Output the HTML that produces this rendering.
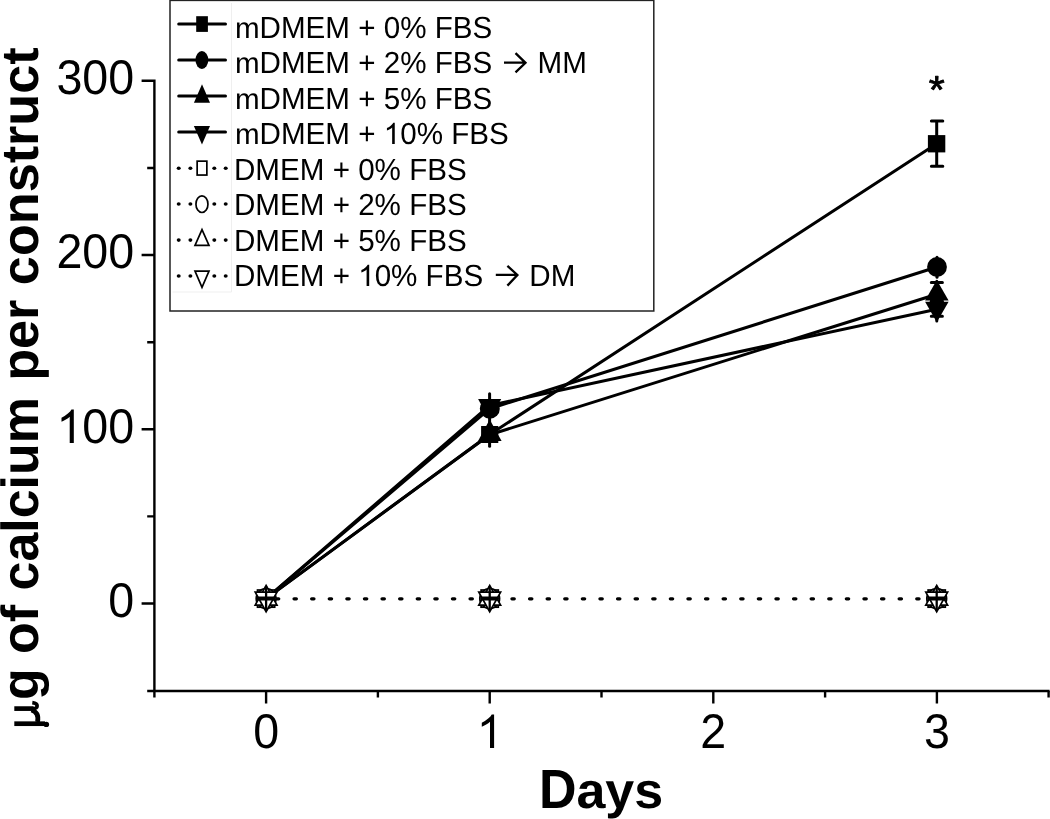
<!DOCTYPE html>
<html><head><meta charset="utf-8"><style>
html,body{margin:0;padding:0;background:#fff;width:1050px;height:819px;overflow:hidden}
svg{display:block;will-change:transform}
text{font-family:"Liberation Sans",sans-serif;fill:#000;text-rendering:geometricPrecision}
</style></head><body>
<svg width="1050" height="819" viewBox="0 0 1050 819">
<rect x="0" y="0" width="1050" height="819" fill="#fff"/>
<defs><path id="one" d="M763,0 L583,0 L583,1147 Q518,1085 415,1024.5 Q312,964 222,930 L222,1104 Q384,1180 502.5,1286 Q621,1392 659,1466 L763,1466 Z"/></defs>

<!-- axes -->
<g stroke="#000" fill="none" stroke-linecap="butt">
  <path d="M141.6,80.8 H154.4 V697.6" stroke-width="2.4" stroke-linejoin="miter"/>
  <path d="M147.2,690.95 H1049.6" stroke-width="2.5"/>
  <path d="M141.6,255.07 H154.4 M141.6,429.3 H154.4 M141.6,603.5 H154.4" stroke-width="2.4"/>
  <path d="M147.2,168 H154.4 M147.2,342.2 H154.4 M147.2,516.4 H154.4" stroke-width="2.4"/>
  <path d="M266.1,690.9 V703.6 M489.7,690.9 V703.6 M713.3,690.9 V703.6 M936.9,690.9 V703.6" stroke-width="2.4"/>
  <path d="M377.9,690.9 V697.6 M601.5,690.9 V697.6 M825.1,690.9 V697.6 M1048.6,690.9 V697.6" stroke-width="2.4"/>
</g>

<!-- tick labels -->
<g font-size="46.6" text-anchor="end">
  <text transform="translate(134.2,94.4) scale(1,1.045)">300</text>
  <text transform="translate(134.2,268.1) scale(1,1.045)">200</text>
  <use href="#one" transform="translate(56.45,443) scale(0.022754,-0.0229)"/>
  <text text-anchor="start" transform="translate(82.37,442.8) scale(1,1.045)">00</text>
  <text transform="translate(134.2,617.1) scale(1,1.045)">0</text>
</g>
<g font-size="46.6" text-anchor="middle">
  <text transform="translate(266.1,748.2) scale(1,1.045)">0</text>
  <use href="#one" transform="translate(476.74,748) scale(0.022754,-0.0229)"/>
  <text transform="translate(713.3,748.2) scale(1,1.045)">2</text>
  <text transform="translate(936.9,748.2) scale(1,1.045)">3</text>
</g>

<!-- axis titles -->
<text font-weight="bold" font-size="52" transform="translate(538.9,807.8) scale(1,1.06)">D</text>
<text font-weight="bold" font-size="52" transform="translate(576.45,807.8) scale(1,0.975)">ays</text>
<text font-weight="bold" font-size="52.2" transform="translate(38.3,700.04) rotate(-90) scale(0.995,1)">g of calcium</text>
<text font-weight="bold" font-size="52.2" transform="translate(38.3,380.84) rotate(-90)">per construct</text>
<!-- mu -->
<g stroke="#000" fill="none" stroke-width="4.7" stroke-linecap="butt">
  <path d="M14.3,708.6 H33.5"/>
  <path d="M32.5,708.6 C38.5,708.6 39,703.5 32.3,702.6" stroke-width="3.6"/>
  <path d="M31.5,710 C37.5,712 38.8,716 37.5,722"/>
  <path d="M14.3,723.7 H45"/>
</g>
<ellipse cx="46.3" cy="724.4" rx="2.8" ry="2.6" fill="#000"/>

<!-- asterisk -->
<text font-size="41" text-anchor="middle" stroke="#000" stroke-width="0.9" stroke-linejoin="round" transform="translate(936.75,103) scale(1,0.95)">*</text>

<!-- dotted series lines -->
<g stroke="#000" fill="none" stroke-width="3.3" stroke-linecap="round" stroke-dasharray="2.3 15.3">
  <path d="M276.45,598.8 H489.7" />
  <path d="M511.95,598.8 H936.6" />
</g>

<!-- solid series lines -->
<g stroke="#000" fill="none" stroke-width="3" stroke-linejoin="round">
  <path d="M266.1,598.6 L489.7,434.5 L936.6,143.7"/>
  <path d="M266.1,598.6 L489.7,408.7 L937,267"/>
  <path d="M266.1,598.6 L489.7,434.7 L936.8,294.2"/>
  <path d="M266.1,598.6 L489.7,405.4 L936.8,309.2"/>
</g>

<!-- error bars solid -->
<g stroke="#000" fill="none" stroke-width="3" stroke-linecap="round">
  <path d="M936.7,121 V166.3 M931.4,121 H942.8 M931.4,166.3 H942.8"/>
  <path d="M936.8,281.2 V321 M931.3,282.5 H942.4 M931.3,316.3 H942.4"/>
  <path d="M489.6,393.8 V446.3"/>
  <path d="M937,257.2 V277.3"/>
</g>

<!-- filled markers -->
<g fill="#000">
  <!-- day 3 -->
  <rect x="927.9" y="135.1" width="17.4" height="17.3"/>
  <circle cx="937" cy="267" r="9.9"/>
  <path d="M936.8,280 L948.6,300.6 L925.1,300.6 Z"/>
  <path d="M925.1,301.8 L948.6,301.8 L936.8,322.2 Z"/>
  <!-- day 1 -->
  <path d="M478.1,399.1 L501.2,399.1 L489.7,420.6 Z"/>
  <circle cx="489.8" cy="408.8" r="10"/>
  <rect x="481.1" y="426" width="17.2" height="17"/>
  <path d="M489.7,419.5 L501.6,441 L478.1,441 Z"/>
</g>
<path d="M931.2,301.2 H942.5" stroke="#000" stroke-width="2.8" stroke-linecap="round"/>

<!-- open markers -->
<defs><g id="omk" stroke="#000" stroke-width="1.7" fill="#fff" stroke-linejoin="miter">
  <rect x="-8.6" y="-8.6" width="17.2" height="17.2"/>
  <circle cx="0" cy="0" r="9.9"/>
  <path d="M0,-13.1 L10.9,6.5 L-10.9,6.5 Z"/>
  <path d="M-10.9,-6.5 L10.9,-6.5 L0,13.1 Z"/>
  <path d="M0,-12.5 V12.5" stroke-width="2.3" fill="none"/>
  <path d="M-7.4,-0.2 H7.4" stroke-width="4" stroke-linecap="round" fill="none"/>
</g></defs>
<use href="#omk" transform="translate(266.1,598.6)"/>
<use href="#omk" transform="translate(489.7,598.6)"/>
<use href="#omk" transform="translate(936.7,598.6)"/>
<!-- legend -->
<rect x="170" y="0.4" width="483.8" height="310.6" fill="#fff" stroke="#222" stroke-width="1.5"/>
<path d="M231.5,3 V292 H172.5" fill="none" stroke="#efefef" stroke-width="1"/>
<g stroke="#000" stroke-width="3" stroke-linecap="round" fill="none">
  <path d="M178.7,24 H225.5 M178.7,60 H225.5 M178.7,96 H225.5 M178.7,132 H225.5"/>
</g>
<g fill="#000">
  <rect x="196.2" y="16.2" width="11.7" height="15.7"/>
  <ellipse cx="201.9" cy="60" rx="6.4" ry="8.9"/>
  <path d="M202,84.3 L210,102.7 L193.9,102.7 Z"/>
  <path d="M193.9,126 L210,126 L202,144.5 Z"/>
  <!-- dots -->
  <g id="dots">
  <ellipse cx="178.7" cy="168.3" rx="2" ry="1.8"/><ellipse cx="190.4" cy="168.3" rx="2" ry="1.8"/><ellipse cx="214.3" cy="168.3" rx="2" ry="1.8"/><ellipse cx="225.7" cy="168.3" rx="2" ry="1.8"/>
  <ellipse cx="178.7" cy="204" rx="2" ry="1.8"/><ellipse cx="190.4" cy="204" rx="2" ry="1.8"/><ellipse cx="214.3" cy="204" rx="2" ry="1.8"/><ellipse cx="225.7" cy="204" rx="2" ry="1.8"/>
  <ellipse cx="178.7" cy="240.1" rx="2" ry="1.8"/><ellipse cx="190.4" cy="240.1" rx="2" ry="1.8"/><ellipse cx="214.3" cy="240.1" rx="2" ry="1.8"/><ellipse cx="225.7" cy="240.1" rx="2" ry="1.8"/>
  <ellipse cx="178.7" cy="276" rx="2" ry="1.8"/><ellipse cx="190.4" cy="276" rx="2" ry="1.8"/><ellipse cx="214.3" cy="276" rx="2" ry="1.8"/><ellipse cx="225.7" cy="276" rx="2" ry="1.8"/>
  </g>
</g>
<g fill="#fff" stroke="#000" stroke-width="1.7">
  <rect x="197.15" y="161.15" width="9.7" height="13.9"/>
  <ellipse cx="201.95" cy="204.2" rx="6" ry="8.3"/>
  <path d="M202,229.6 L209,245.3 L195,245.3 Z"/>
  <path d="M195,271.2 L209,271.2 L202,287.3 Z"/>
</g>

<g font-size="29.6">
  <text transform="translate(234.9,38) scale(1,0.985)">m</text><text transform="translate(259.56,38) scale(1,1.031)">DMEM + 0% FBS</text>
  <text transform="translate(234.9,73.4) scale(1,0.985)">m</text><text transform="translate(259.56,73.4) scale(1,1.031)">DMEM + 2% FBS</text>
  <text transform="translate(537.6,73.4) scale(1,1.031)">MM</text>
  <text transform="translate(234.9,108.9) scale(1,0.985)">m</text><text transform="translate(259.56,108.9) scale(1,1.031)">DMEM + 5% FBS</text>
  <text transform="translate(234.9,144.3) scale(1,0.985)">m</text><text transform="translate(259.56,144.3) scale(1,1.031)">DMEM +</text><use href="#one" transform="translate(383.73,144) scale(0.014453,-0.01445)"/><text transform="translate(400.19,144.3) scale(1,1.031)">0% FBS</text>
  <text transform="translate(234,179.7) scale(1,1.031)">DMEM + 0% FBS</text>
  <text transform="translate(234,215.1) scale(1,1.031)">DMEM + 2% FBS</text>
  <text transform="translate(234,250.6) scale(1,1.031)">DMEM + 5% FBS</text>
  <text transform="translate(234,286) scale(1,1.031)">DMEM +</text><use href="#one" transform="translate(358.17,286) scale(0.014453,-0.01445)"/><text transform="translate(374.63,286) scale(1,1.031)">0% FBS</text>
  <text transform="translate(529.3,286) scale(1,1.031)">DM</text>
</g>
<!-- arrows -->
<g stroke="#000" stroke-width="2.3" fill="none" stroke-linecap="butt" stroke-linejoin="miter">
  <path d="M504,62.6 H525.5 M515.5,53.2 L525.5,62.8 L515.5,72.4"/>
  <path d="M495.8,274.8 H517.4 M507.4,265.9 L517.4,275 L507.4,285.6"/>
</g>
</svg>
</body></html>
